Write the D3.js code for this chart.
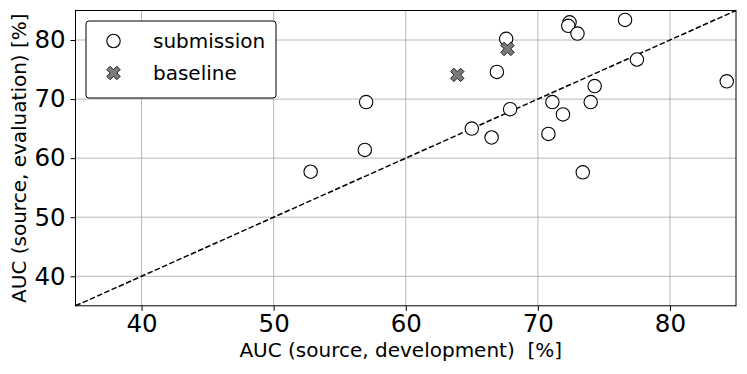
<!DOCTYPE html>
<html>
<head>
<meta charset="utf-8">
<script src="https://cdn.jsdelivr.net/npm/d3@7"></script>
<style>
  body { margin: 0; background: #fff; }
  svg { display: block; font-family: "DejaVu Sans", sans-serif; }
  .tick line { stroke: #000; }
  .grid line { stroke: #b0b0b0; stroke-width: 0.9; }
</style>
</head>
<body>
<svg id="chart" width="747" height="374"></svg>
<script>
'use strict';

// submission systems: development AUC vs evaluation AUC (source domain)
const subDev = [52.8, 57.0, 56.9, 65.0, 66.5, 66.9, 67.6, 67.9, 70.8, 71.1,
                71.9, 72.4, 72.3, 73.0, 73.4, 74.0, 74.3, 76.6, 77.5, 84.3];
const subEval = [57.7, 69.5, 61.4, 65.0, 63.5, 74.6, 80.2, 68.3, 64.1, 69.5,
                 67.4, 83.0, 82.4, 81.1, 57.6, 69.5, 72.2, 83.4, 76.7, 73.0];

// baseline systems
const baseDev = [63.9, 67.7];
const baseEval = [74.1, 78.5];

const xTicks = [40, 50, 60, 70, 80];
const yTicks = [40, 50, 60, 70, 80];
const domain = [35, 85];

const margin = { top: 10.5, right: 11, bottom: 68.2, left: 75.5 };
const svg = d3.select('#chart');
const width = Number(svg.attr('width'));
const height = Number(svg.attr('height'));

const x = d3.scaleLinear().domain(domain)
  .range([margin.left, width - margin.right]);
const y = d3.scaleLinear().domain(domain)
  .range([height - margin.bottom, margin.top]);

// matplotlib-like filled 'X' marker
const symbolBigX = {
  draw(ctx, size) {
    const s = Math.sqrt(size);
    const q = s / 4, h = s / 2;
    const pts = [[-q, -h], [0, -q], [q, -h], [h, -q], [q, 0], [h, q],
                 [q, h], [0, q], [-q, h], [-h, q], [-q, 0], [-h, -q]];
    ctx.moveTo(pts[0][0], pts[0][1]);
    for (const p of pts.slice(1)) ctx.lineTo(p[0], p[1]);
    ctx.closePath();
  }
};

// grid
svg.append('g').attr('class', 'grid')
  .selectAll('line').data(xTicks).enter().append('line')
  .attr('x1', d => x(d)).attr('x2', d => x(d))
  .attr('y1', y(domain[0])).attr('y2', y(domain[1]));

svg.append('g').attr('class', 'grid')
  .selectAll('line').data(yTicks).enter().append('line')
  .attr('y1', d => y(d)).attr('y2', d => y(d))
  .attr('x1', x(domain[0])).attr('x2', x(domain[1]));

// diagonal
svg.append('line')
  .attr('x1', x(domain[0])).attr('y1', y(domain[0]))
  .attr('x2', x(domain[1])).attr('y2', y(domain[1]))
  .attr('stroke', '#000')
  .attr('stroke-width', 1.5)
  .attr('stroke-dasharray', '5.5,2.4');

// axes
const fontTick = 24.5;

svg.append('g')
  .attr('transform', 'translate(0,' + y(domain[0]) + ')')
  .call(d3.axisBottom(x).tickValues(xTicks).tickSize(5).tickPadding(3.8))
  .call(g => g.select('.domain').remove())
  .selectAll('text')
  .attr('font-size', fontTick).attr('fill', '#000')
  .attr('font-family', '"DejaVu Sans", sans-serif');

svg.append('g')
  .attr('transform', 'translate(' + x(domain[0]) + ',0)')
  .call(d3.axisLeft(y).tickValues(yTicks).tickSize(5).tickPadding(4.8))
  .call(g => g.select('.domain').remove())
  .selectAll('text')
  .attr('font-size', fontTick).attr('fill', '#000')
  .attr('font-family', '"DejaVu Sans", sans-serif');

// frame
svg.append('rect')
  .attr('x', x(domain[0])).attr('y', y(domain[1]))
  .attr('width', x(domain[1]) - x(domain[0]))
  .attr('height', y(domain[0]) - y(domain[1]))
  .attr('fill', 'none')
  .attr('stroke', '#000')
  .attr('stroke-width', 1);

// points
const subs = subDev.map((d, i) => ({ x: d, y: subEval[i] }));
const bases = baseDev.map((d, i) => ({ x: d, y: baseEval[i] }));

svg.append('g')
  .selectAll('circle').data(subs).enter().append('circle')
  .attr('cx', d => x(d.x))
  .attr('cy', d => y(d.y))
  .attr('r', 6.7)
  .attr('fill', '#fff')
  .attr('stroke', '#000')
  .attr('stroke-width', 1.1);

svg.append('g')
  .selectAll('path').data(bases).enter().append('path')
  .attr('transform', d => 'translate(' + x(d.x) + ',' + y(d.y) + ')')
  .attr('d', d3.symbol(symbolBigX, 13.5 * 13.5))
  .attr('fill', '#7a7a7a')
  .attr('stroke', '#000')
  .attr('stroke-width', 0.8);

// axis labels
svg.append('text')
  .attr('x', (x(domain[0]) + x(domain[1])) / 2 - 5)
  .attr('y', 357)
  .attr('text-anchor', 'middle')
  .attr('font-size', 20)
  .style('white-space', 'pre')
  .text('AUC (source, development)  [%]');

svg.append('text')
  .attr('transform', 'translate(26,' + (y(domain[0]) + y(domain[1])) / 2 + ') rotate(-90)')
  .attr('text-anchor', 'middle')
  .attr('font-size', 20)
  .text('AUC (source, evaluation) [%]');

// legend
const legend = svg.append('g').attr('class', 'legend');

legend.append('rect')
  .attr('x', 86).attr('y', 21)
  .attr('width', 190).attr('height', 77)
  .attr('rx', 3)
  .attr('fill', '#fff')
  .attr('stroke', '#000')
  .attr('stroke-width', 1);

legend.append('circle')
  .attr('cx', 113.5).attr('cy', 41)
  .attr('r', 6.7)
  .attr('fill', '#fff').attr('stroke', '#000').attr('stroke-width', 1.1);

legend.append('path')
  .attr('transform', 'translate(113.5,73)')
  .attr('d', d3.symbol(symbolBigX, 13.5 * 13.5))
  .attr('fill', '#7a7a7a').attr('stroke', '#000').attr('stroke-width', 0.8);

legend.append('text')
  .attr('x', 153).attr('y', 48)
  .attr('font-size', 20)
  .text('submission');

legend.append('text')
  .attr('x', 153).attr('y', 80)
  .attr('font-size', 20)
  .text('baseline');
</script>
</body>
</html>
